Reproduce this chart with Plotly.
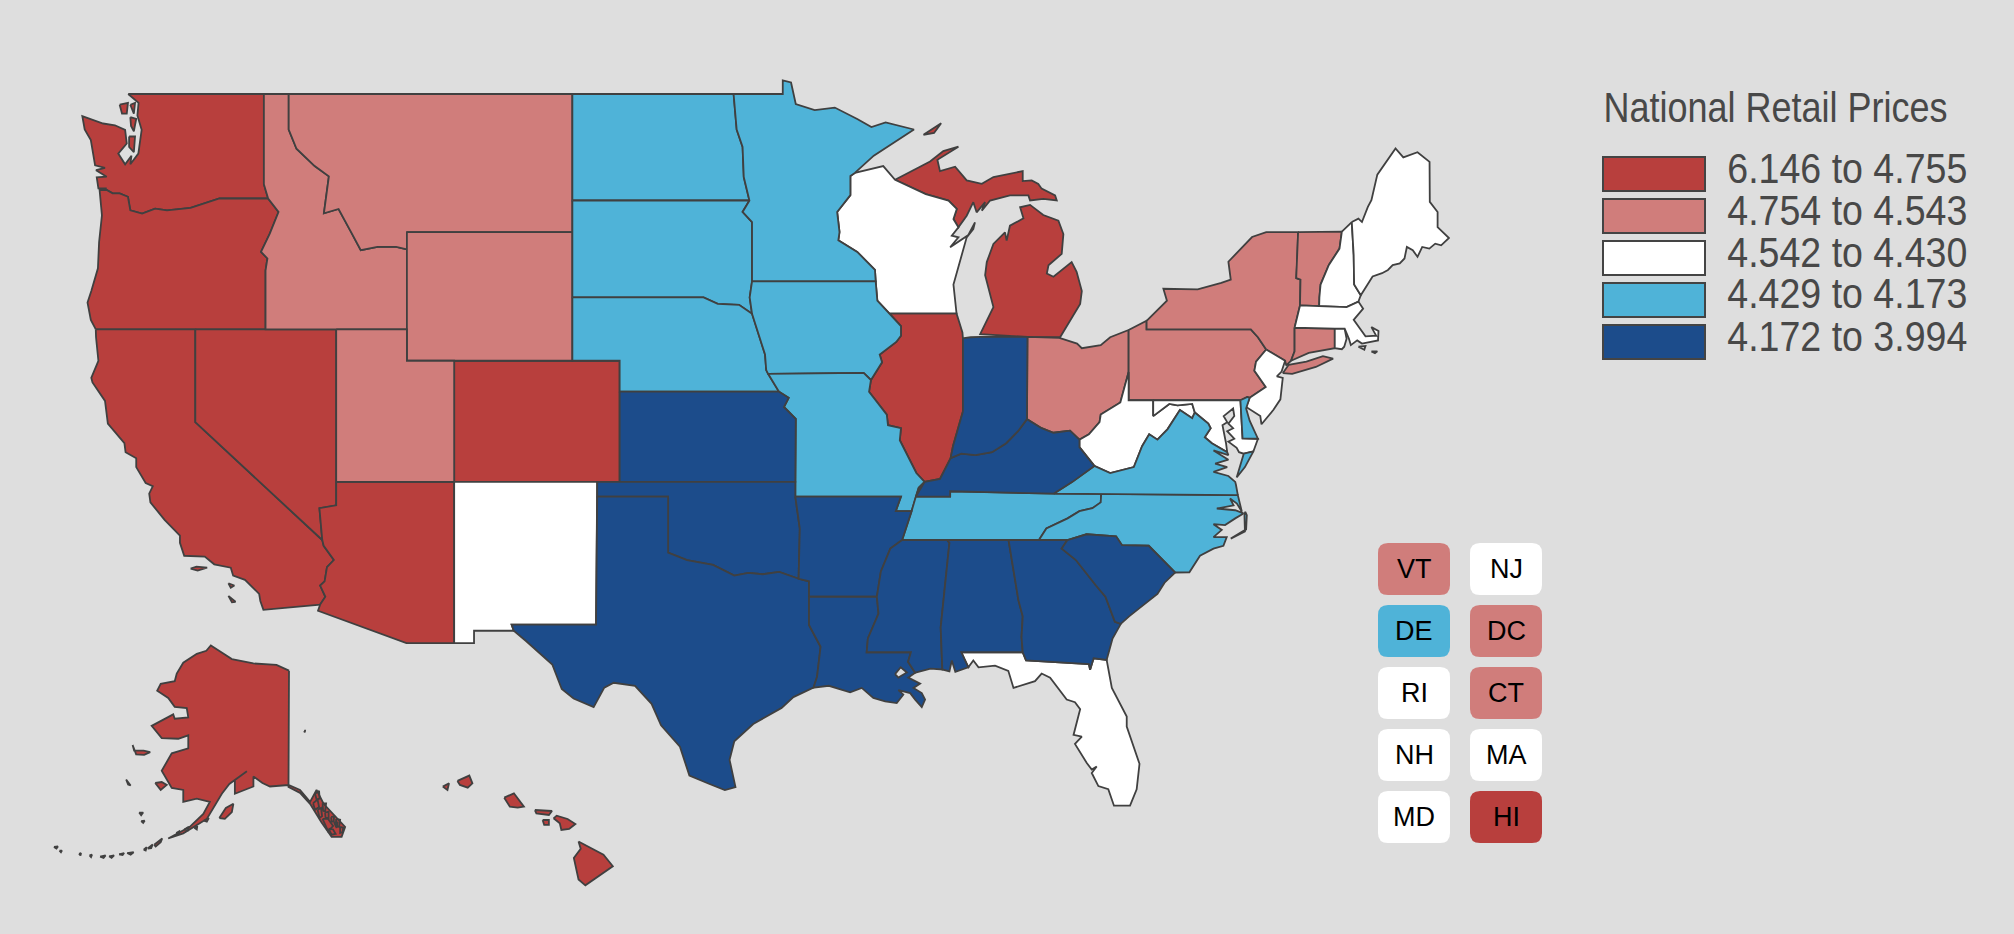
import math

import plotly.graph_objects as go

# legend classes, highest price first
class_labels = ["6.146 to 4.755", "4.754 to 4.543", "4.542 to 4.430", "4.429 to 4.173", "4.172 to 3.994"]
class_colors = ["#b83f3d", "#d07d7b", "#ffffff", "#4fb3d8", "#1c4c8b"]
class_states = [
    ["WA", "OR", "CA", "NV", "AZ", "CO", "IL", "MI", "AK", "HI"],
    ["ID", "MT", "WY", "UT", "OH", "PA", "NY", "VT", "CT", "DC"],
    ["NM", "WI", "FL", "WV", "MD", "NJ", "RI", "NH", "MA", "ME"],
    ["ND", "SD", "NE", "MN", "IA", "MO", "TN", "NC", "VA", "DE"],
    ["KS", "OK", "TX", "AR", "LA", "MS", "AL", "GA", "SC", "KY", "IN"],
]
small_state_labels = [["VT", "DE", "RI", "NH", "MD"], ["NJ", "DC", "CT", "MA", "HI"]]

# shared borders as (lon, lat)
COLUMBIA = [(-118.98, 46.0), (-119.3, 45.93), (-120.2, 45.72), (-121.2, 45.65), (-121.7, 45.7), (-122.25, 45.55),
            (-122.75, 45.65), (-122.85, 46.05), (-123.2, 46.15), (-123.5, 46.15), (-123.75, 46.25), (-124.05, 46.25)]
SNAKE = [(-116.92, 46.0), (-116.48, 45.6), (-116.85, 44.95), (-117.22, 44.4), (-116.95, 44.2), (-117.03, 43.83), (-117.03, 42.0)]
BITTERROOT = [(-116.05, 48.0), (-115.72, 47.45), (-114.95, 46.95), (-114.35, 46.65), (-114.56, 45.56), (-113.94, 45.69),
              (-113.45, 45.05), (-113.0, 44.45), (-112.3, 44.55), (-111.5, 44.55), (-111.05, 44.48)]
COLORADO_RIVER = [(-114.63, 35.0), (-114.57, 34.8), (-114.14, 34.3), (-114.43, 34.05), (-114.53, 33.55), (-114.72, 33.4),
                  (-114.5, 33.0), (-114.72, 32.72)]
RED_NORTH = [(-97.23, 49.0), (-97.1, 48.0), (-96.85, 47.5), (-96.8, 46.63), (-96.56, 45.94)]
MN_SD = [(-96.56, 45.94), (-96.85, 45.6), (-96.45, 45.3), (-96.45, 43.5)]
SD_IA = [(-96.45, 43.5), (-96.55, 43.0), (-96.45, 42.49)]
NE_SD = [(-96.45, 42.49), (-97.0, 42.77), (-97.9, 42.8), (-98.5, 43.0)]
NE_IA = [(-96.45, 42.49), (-96.1, 41.7), (-95.9, 41.2), (-95.85, 40.7), (-95.77, 40.58)]
MO_KS = [(-95.31, 40.0), (-94.9, 39.8), (-95.1, 39.5), (-94.6, 39.11), (-94.62, 37.0)]
WI_MN = [(-92.29, 46.66), (-92.29, 46.1), (-92.85, 45.6), (-92.75, 45.0), (-92.8, 44.75), (-92.0, 44.4), (-91.25, 43.85), (-91.22, 43.5)]
MISS_IA_WI = [(-91.22, 43.5), (-91.15, 42.9), (-90.64, 42.5)]
MISS_IA_IL = [(-90.64, 42.5), (-90.15, 42.1), (-90.15, 41.8), (-90.35, 41.6), (-91.05, 41.2), (-90.95, 40.95), (-91.42, 40.38)]
MISS_MO_IL = [(-91.42, 40.38), (-91.5, 40.0), (-90.75, 39.25), (-90.7, 38.9), (-90.15, 38.8), (-90.2, 38.4), (-89.5, 37.3), (-89.15, 37.0)]
MISS_MO_KY = [(-89.15, 37.0), (-89.4, 36.8), (-89.52, 36.5)]
MISS_MO_TN = [(-89.52, 36.5), (-89.7, 36.0)]
MISS_AR_TN = [(-89.7, 36.0), (-90.1, 35.0)]
MISS_AR_MS = [(-90.1, 35.0), (-90.6, 34.7), (-91.0, 33.9), (-91.17, 33.0)]
MISS_LA_MS = [(-91.17, 33.0), (-91.1, 32.4), (-91.55, 31.5), (-91.6, 31.0)]
OHIO_IL_KY = [(-89.15, 37.0), (-88.5, 37.1), (-88.05, 37.8)]
WABASH = [(-88.05, 37.8), (-87.95, 38.2), (-87.53, 39.35)]
OHIO_IN_KY = [(-88.05, 37.8), (-87.6, 37.95), (-87.0, 37.9), (-86.3, 38.0), (-85.7, 38.3), (-85.2, 38.7), (-84.82, 39.1)]
OHIO_OH_KY = [(-84.82, 39.1), (-84.2, 38.8), (-83.7, 38.65), (-83.0, 38.72), (-82.6, 38.42)]
OHIO_OH_WV = [(-82.6, 38.42), (-82.2, 38.6), (-81.75, 39.0), (-81.7, 39.25), (-80.87, 39.65), (-80.52, 40.64)]
KY_WV = [(-82.6, 38.42), (-82.6, 38.17), (-81.97, 37.54)]
KY_VA = [(-81.97, 37.54), (-82.9, 37.0), (-83.68, 36.6)]
TN_KY = [(-83.68, 36.6), (-86.5, 36.65), (-88.07, 36.68), (-88.07, 36.5), (-89.52, 36.5)]
TN_NC = [(-81.68, 36.59), (-81.7, 36.3), (-82.05, 36.1), (-82.6, 36.0), (-83.1, 35.75), (-84.0, 35.4), (-84.32, 34.99)]
NC_SC = [(-83.11, 35.0), (-82.3, 35.2), (-81.05, 35.13), (-80.8, 34.82), (-79.67, 34.8), (-78.55, 33.86)]
SAVANNAH = [(-83.11, 35.0), (-83.35, 34.7), (-82.75, 34.3), (-81.9, 33.4), (-81.5, 33.0), (-81.1, 32.1), (-80.85, 32.03)]
VA_WV = [(-81.97, 37.54), (-81.3, 37.3), (-80.3, 37.5), (-79.95, 38.2), (-79.65, 38.6), (-79.3, 38.42), (-78.87, 38.77),
         (-78.35, 39.4), (-77.83, 39.13), (-77.72, 39.32)]
WV_MD = [(-77.72, 39.32), (-77.83, 39.6), (-78.45, 39.55), (-78.8, 39.6), (-79.48, 39.2), (-79.48, 39.72)]
VA_MD = [(-77.72, 39.32), (-77.15, 38.95), (-77.05, 38.8), (-77.3, 38.5), (-77.0, 38.3), (-76.35, 38.0)]
RED_SOUTH = [(-100.0, 34.56), (-99.2, 34.3), (-98.1, 34.13), (-97.7, 33.95), (-97.2, 33.75), (-96.6, 33.85), (-96.0, 33.8),
             (-95.3, 33.88), (-94.48, 33.64)]
SABINE = [(-94.04, 33.0), (-94.04, 31.99), (-93.55, 31.2), (-93.7, 30.1), (-93.85, 29.7)]
NY_PA = [(-75.35, 42.0), (-75.05, 41.75), (-74.7, 41.36)]
DELAWARE_PA_NJ = [(-74.7, 41.36), (-75.13, 40.97), (-75.2, 40.68), (-74.72, 40.15), (-75.4, 39.8)]
VT_NH = [(-71.5, 45.01), (-71.6, 44.5), (-72.05, 44.0), (-72.4, 43.4), (-72.45, 43.0), (-72.46, 42.73)]
NY_VT = [(-73.35, 45.0), (-73.4, 44.0), (-73.43, 43.6), (-73.25, 43.55), (-73.27, 42.75)]
WI_UP = [(-90.4, 46.55), (-89.1, 46.13), (-88.14, 45.94), (-87.79, 45.69), (-87.93, 45.39), (-87.72, 45.14)]

# state outlines as (lon, lat), a state may have several rings
state_rings = {
    "WA": [[(-122.84, 49.0), (-117.1, 49.0), (-117.1, 46.42), (-116.92, 46.0)] + COLUMBIA
           + [(-123.75, 46.3), (-124.1, 46.3), (-124.17, 46.62), (-123.75, 46.64), (-124.2, 46.83), (-123.82, 46.9), (-124.24, 46.97),
              (-124.42, 47.7), (-124.68, 48.0), (-124.78, 48.38), (-123.9, 48.17), (-123.4, 48.12), (-122.97, 47.99), (-122.9, 47.6),
              (-123.26, 47.31), (-122.97, 47.0), (-122.7, 47.25), (-122.75, 47.0), (-122.41, 47.31), (-122.27, 47.99),
              (-122.45, 48.4), (-122.4, 48.75)],
           [(-122.75, 48.35), (-122.5, 48.3), (-122.6, 47.95), (-122.72, 48.1)],
           [(-122.8, 47.8), (-122.55, 47.8), (-122.6, 47.35), (-122.8, 47.5)],
           [(-123.2, 48.7), (-122.85, 48.75), (-122.9, 48.45), (-123.1, 48.45)],
           [(-122.75, 48.7), (-122.55, 48.75), (-122.6, 48.45)]],
    "OR": [[(-124.21, 42.0), (-117.03, 42.0)] + SNAKE[::-1] + COLUMBIA
           + [(-123.95, 45.5), (-124.07, 44.7), (-124.12, 43.9), (-124.4, 43.2), (-124.56, 42.84), (-124.42, 42.3)]],
    "CA": [[(-124.21, 42.0), (-120.0, 42.0), (-120.0, 39.0)] + COLORADO_RIVER
           + [(-117.12, 32.53), (-117.25, 32.85), (-117.3, 33.1), (-117.9, 33.6), (-118.4, 33.75), (-118.5, 34.03),
              (-119.2, 34.15), (-119.6, 34.42), (-120.47, 34.45), (-120.65, 34.9), (-120.65, 35.15), (-121.3, 35.7),
              (-121.9, 36.3), (-121.95, 36.6), (-121.8, 36.85), (-122.1, 36.96), (-122.5, 37.5), (-122.5, 37.8),
              (-122.95, 38.0), (-123.0, 38.3), (-123.7, 38.95), (-123.82, 39.7), (-124.35, 40.3), (-124.4, 40.45),
              (-124.1, 41.0), (-124.2, 41.75)],
           [(-120.2, 34.0), (-119.95, 34.07), (-119.5, 34.03), (-119.9, 33.93)],
           [(-118.6, 33.48), (-118.35, 33.4), (-118.5, 33.32)],
           [(-118.6, 33.03), (-118.3, 32.82), (-118.45, 32.8)]],
    "NV": [[(-120.0, 42.0), (-114.04, 42.0), (-114.04, 36.2), (-114.75, 36.1), (-114.63, 35.0), (-120.0, 39.0)]],
    "AZ": [[(-114.04, 37.0), (-109.05, 37.0), (-109.05, 31.33), (-111.07, 31.33), (-114.81, 32.5)] + COLORADO_RIVER[::-1]
           + [(-114.75, 36.1), (-114.04, 36.2)]],
    "UT": [[(-114.04, 42.0), (-111.05, 42.0), (-111.05, 41.0), (-109.05, 41.0), (-109.05, 37.0), (-114.04, 37.0)]],
    "ID": [[(-117.1, 49.0), (-116.05, 49.0)] + BITTERROOT + [(-111.05, 42.0)] + SNAKE[::-1] + [(-117.1, 46.42)]],
    "MT": [[(-116.05, 49.0), (-104.05, 49.0), (-104.05, 45.0), (-111.05, 45.0)] + BITTERROOT[::-1]],
    "WY": [[(-111.05, 45.0), (-104.05, 45.0), (-104.05, 41.0), (-111.05, 41.0)]],
    "CO": [[(-109.05, 41.0), (-102.05, 41.0), (-102.05, 37.0), (-109.05, 37.0)]],
    "NM": [[(-109.05, 37.0), (-103.0, 37.0), (-103.05, 32.0), (-106.62, 32.0), (-106.53, 31.78), (-108.21, 31.78),
            (-108.21, 31.33), (-109.05, 31.33)]],
    "ND": [[(-104.05, 49.0)] + RED_NORTH + [(-104.05, 45.94)]],
    "SD": [[(-104.05, 45.94)] + MN_SD + SD_IA + NE_SD + [(-104.05, 43.0)]],
    "NE": [[(-104.05, 43.0)] + NE_SD[::-1] + NE_IA + [(-95.31, 40.0), (-102.05, 40.0), (-102.05, 41.0), (-104.05, 41.0)]],
    "KS": [[(-102.05, 40.0)] + MO_KS + [(-102.05, 37.0)]],
    "OK": [[(-103.0, 37.0), (-94.62, 37.0), (-94.62, 36.5), (-94.43, 35.4)] + RED_SOUTH[::-1] + [(-100.0, 36.5), (-103.0, 36.5)]],
    "TX": [[(-103.0, 36.5), (-100.0, 36.5)] + RED_SOUTH + [(-94.04, 33.55)] + SABINE
           + [(-94.7, 29.35), (-95.2, 28.95), (-96.4, 28.35), (-97.2, 27.7), (-97.4, 27.0), (-97.15, 25.96), (-97.6, 25.85),
              (-98.3, 26.1), (-99.1, 26.4), (-99.5, 27.5), (-100.3, 28.3), (-100.7, 29.1), (-101.4, 29.77), (-102.3, 29.88),
              (-102.7, 29.7), (-103.15, 28.98), (-104.0, 29.3), (-104.5, 29.65), (-104.9, 30.55), (-106.0, 31.4),
              (-106.53, 31.78), (-106.62, 32.0), (-103.05, 32.0)]],
    "MN": [[(-97.23, 49.0), (-95.15, 49.0), (-95.15, 49.38), (-94.8, 49.32), (-94.6, 48.72), (-93.8, 48.55), (-92.95, 48.62),
            (-92.0, 48.3), (-91.4, 48.07), (-90.8, 48.2), (-89.6, 48.0), (-90.3, 47.7), (-91.3, 47.25), (-92.1, 46.75)]
           + WI_MN + [(-96.45, 43.5)] + MN_SD[::-1] + RED_NORTH[::-1]],
    "IA": [[(-96.45, 43.5)] + MISS_IA_WI + MISS_IA_IL + [(-91.73, 40.61)] + NE_IA[::-1] + SD_IA[::-1]],
    "MO": [[(-95.77, 40.58), (-91.73, 40.61)] + MISS_MO_IL + MISS_MO_KY + MISS_MO_TN
           + [(-90.37, 36.0), (-90.15, 36.5), (-94.62, 36.5)] + MO_KS[::-1]],
    "AR": [[(-94.62, 36.5), (-90.15, 36.5), (-90.37, 36.0)] + MISS_AR_TN + MISS_AR_MS + [(-94.04, 33.0), (-94.04, 33.55), (-94.48, 33.64), (-94.43, 35.4)]],
    "LA": [[(-94.04, 33.0)] + MISS_LA_MS
           + [(-89.73, 31.0), (-89.85, 30.65), (-89.55, 30.25), (-89.84, 30.07), (-89.34, 29.85), (-89.62, 29.69), (-89.27, 29.5),
              (-89.13, 29.26), (-89.27, 28.98), (-89.55, 29.26), (-89.76, 29.5), (-90.26, 29.61), (-90.05, 29.44), (-90.33, 29.13),
              (-90.82, 29.19), (-91.32, 29.32), (-91.81, 29.69), (-92.3, 29.53), (-93.2, 29.77)] + SABINE[::-1]],
    "MS": [[(-90.1, 35.0), (-88.2, 35.0), (-88.1, 34.9), (-88.47, 31.9), (-88.4, 30.37), (-88.9, 30.4), (-89.55, 30.25),
            (-89.85, 30.65), (-89.73, 31.0)] + MISS_LA_MS[::-1] + MISS_AR_MS[::-1]],
    "AL": [[(-88.2, 35.0), (-85.6, 35.0), (-85.18, 32.87), (-85.0, 32.3), (-85.05, 31.55), (-85.0, 31.0), (-87.6, 31.0),
            (-87.3, 30.45), (-87.85, 30.28), (-88.0, 30.7), (-88.1, 30.3), (-88.4, 30.37), (-88.47, 31.9), (-88.1, 34.9)]],
    "GA": [[(-85.6, 35.0), (-84.32, 34.99)] + SAVANNAH
           + [(-81.2, 31.5), (-81.45, 30.72), (-82.0, 30.78), (-82.15, 30.36), (-82.2, 30.57), (-84.86, 30.7), (-85.0, 31.0),
              (-85.05, 31.55), (-85.0, 32.3), (-85.18, 32.87)]],
    "FL": [[(-87.6, 31.0), (-85.0, 31.0), (-84.86, 30.7), (-82.2, 30.57), (-82.15, 30.36), (-82.0, 30.78), (-81.45, 30.72),
            (-81.23, 29.69), (-80.6, 28.63), (-80.6, 28.25), (-80.06, 26.85), (-80.18, 25.88), (-80.46, 25.25), (-81.14, 25.25),
            (-81.38, 25.88), (-81.8, 26.0), (-82.08, 26.5), (-81.87, 26.75), (-82.08, 26.63), (-82.29, 26.88), (-82.79, 27.6),
            (-82.5, 27.88), (-82.85, 27.94), (-82.57, 28.9), (-82.79, 29.16), (-83.14, 29.26), (-83.84, 30.07), (-84.2, 30.22),
            (-84.48, 29.94), (-85.39, 29.69), (-85.61, 30.32), (-86.17, 30.51), (-86.87, 30.45), (-87.09, 30.7), (-87.3, 30.45)]],
    "SC": [NC_SC + [(-79.0, 33.5), (-79.3, 33.1), (-79.9, 32.7), (-80.5, 32.3)] + SAVANNAH[::-1]],
    "NC": [[(-84.32, 34.99)] + NC_SC
           + [(-77.95, 33.87), (-77.5, 34.45), (-76.93, 34.7), (-76.51, 34.8), (-76.37, 35.1), (-76.93, 35.1), (-76.58, 35.35),
              (-76.93, 35.55), (-76.44, 35.52), (-76.01, 35.75), (-75.66, 35.92), (-76.01, 36.03), (-76.79, 36.09), (-76.08, 36.2),
              (-76.23, 36.43), (-75.94, 36.26), (-75.73, 35.98), (-75.9, 36.55)] + TN_NC],
           # outer banks
    "TN": [[(-90.1, 35.0), (-84.32, 34.99)] + TN_NC[::-1] + [(-83.68, 36.6)] + TN_KY + MISS_MO_TN + MISS_AR_TN],
    "KY": [MISS_MO_KY[::-1] + TN_KY[::-1] + KY_VA[::-1] + KY_WV[::-1] + OHIO_OH_KY[::-1] + OHIO_IN_KY[::-1] + OHIO_IL_KY[::-1]],
    "VA": [[(-75.9, 36.55), (-81.68, 36.59), (-83.68, 36.6)] + KY_VA[::-1] + VA_WV + VA_MD
           + [(-76.3, 37.9), (-76.93, 38.06), (-76.3, 37.75), (-76.86, 37.62), (-76.35, 37.5), (-76.93, 37.34), (-76.3, 37.2),
              (-76.01, 37.0), (-75.98, 36.9)],
           [(-75.95, 37.15), (-75.65, 37.95), (-75.24, 38.03), (-75.6, 37.5)]],
    "WV": [KY_WV[::-1] + OHIO_OH_WV + [(-80.52, 39.72)] + WV_MD[::-1] + VA_WV[::-1]],
    "MD": [[(-79.48, 39.72), (-75.79, 39.72), (-75.7, 38.46), (-75.05, 38.45), (-75.24, 38.03), (-75.65, 37.95), (-75.85, 38.0),
            (-75.95, 38.15), (-76.3, 38.35), (-76.05, 38.45), (-76.35, 38.7), (-76.1, 38.8), (-76.3, 38.95), (-76.05, 39.2),
            (-76.1, 39.45), (-76.5, 39.2), (-76.35, 39.0), (-76.55, 38.9), (-76.4, 38.3)] + VA_MD[::-1] + WV_MD],
    "DE": [[(-75.79, 39.72), (-75.5, 39.83), (-75.4, 39.8), (-75.55, 39.45), (-75.4, 39.05), (-75.05, 38.45), (-75.7, 38.46)]],
    "DC": [[(-77.12, 38.93), (-77.04, 39.0), (-76.91, 38.89), (-77.04, 38.79)]],
    "PA": [[(-80.52, 41.98), (-79.76, 42.27), (-79.76, 42.0)] + NY_PA + DELAWARE_PA_NJ
           + [(-75.5, 39.83), (-75.79, 39.72), (-80.52, 39.72)]],
    "NY": [[(-79.76, 42.27), (-78.9, 42.9), (-79.05, 43.27), (-77.6, 43.25), (-76.6, 43.45), (-76.2, 43.55), (-76.3, 44.1),
            (-75.3, 44.85), (-74.7, 45.0)] + NY_VT + [(-73.5, 42.05), (-73.5, 41.3), (-73.65, 41.0), (-73.85, 40.85),
            (-73.9, 41.0)] + NY_PA[::-1] + [(-79.76, 42.0)],
           [(-74.0, 40.6), (-73.75, 40.87), (-73.0, 40.97), (-72.3, 41.15), (-71.87, 41.07), (-72.6, 40.8), (-73.6, 40.58)]],
    "NJ": [[(-74.7, 41.36), (-73.9, 41.0), (-74.05, 40.65), (-74.25, 40.5), (-74.0, 40.45), (-74.1, 39.75), (-74.4, 39.4),
            (-74.9, 38.93), (-74.95, 39.2), (-75.55, 39.5), (-75.4, 39.8)] + DELAWARE_PA_NJ[::-1]],
    "CT": [[(-73.5, 42.05), (-71.8, 42.02), (-71.8, 41.4), (-72.9, 41.25), (-73.65, 41.0), (-73.5, 41.3)]],
    "RI": [[(-71.8, 42.02), (-71.38, 42.02), (-71.3, 41.7), (-71.4, 41.45), (-71.5, 41.37), (-71.8, 41.4)]],
    "MA": [[(-73.5, 42.05), (-73.27, 42.75), (-72.46, 42.73), (-71.3, 42.7), (-70.8, 42.87), (-70.6, 42.65), (-71.0, 42.3),
            (-70.65, 41.95), (-70.5, 41.78), (-70.05, 41.8), (-70.25, 42.07), (-69.95, 41.95), (-69.97, 41.65), (-70.65, 41.55),
            (-70.85, 41.65), (-71.12, 41.5), (-71.2, 41.7), (-71.38, 42.02), (-71.8, 42.02)],
           [(-70.8, 41.45), (-70.5, 41.47), (-70.55, 41.35)],
           [(-70.25, 41.3), (-70.0, 41.3), (-70.1, 41.24)]],
    "VT": [NY_VT + VT_NH[::-1]],
    "NH": [VT_NH + [(-71.3, 42.7), (-70.8, 42.87), (-70.7, 43.07), (-70.98, 43.4), (-71.0, 44.3), (-71.08, 45.3)]],
    "ME": [[(-71.08, 45.3), (-70.8, 45.4), (-70.65, 45.3), (-70.4, 45.75), (-70.25, 45.95), (-70.0, 46.7), (-69.23, 47.46), (-68.9, 47.2), (-68.3, 47.35), (-67.79, 47.07),
            (-67.78, 45.9), (-67.45, 45.6), (-67.45, 45.15), (-66.97, 44.82), (-67.3, 44.6), (-67.55, 44.65), (-67.8, 44.5),
            (-68.1, 44.55), (-68.3, 44.25), (-68.5, 44.45), (-68.75, 44.55), (-68.85, 44.2), (-69.05, 44.05), (-69.35, 44.0),
            (-69.55, 43.85), (-69.8, 43.75), (-70.2, 43.65), (-70.7, 43.07), (-70.98, 43.4), (-71.0, 44.3)]],
    "OH": [OHIO_OH_KY + OHIO_OH_WV + [(-80.52, 41.98), (-81.3, 41.75), (-81.7, 41.5), (-82.5, 41.4), (-82.7, 41.55), (-83.45, 41.73), (-84.8, 41.76)]],
    "IN": [[(-87.53, 39.35), (-87.53, 41.72), (-87.2, 41.75), (-86.8, 41.76), (-84.8, 41.76)] + OHIO_IN_KY[::-1] + WABASH],
    "IL": [[(-90.64, 42.5), (-87.8, 42.5), (-87.55, 41.9), (-87.53, 41.72)] + WABASH[::-1] + OHIO_IL_KY[::-1] + MISS_MO_IL[::-1] + MISS_IA_IL[::-1]],
    "WI": [[(-92.29, 46.66), (-92.1, 46.75), (-90.9, 46.95)] + WI_UP
           + [(-88.0, 44.89), (-87.72, 44.84), (-88.07, 44.54), (-87.3, 44.91), (-87.02, 45.29), (-87.09, 45.09), (-87.37, 44.84),
              (-87.93, 43.4), (-87.8, 42.5), (-90.64, 42.5)] + MISS_IA_WI[::-1] + WI_MN[::-1]],
    "MI": [[(-84.8, 41.76), (-83.42, 41.75), (-82.57, 42.8), (-82.5, 43.2), (-82.72, 43.79), (-82.93, 44.09), (-83.7, 43.64),
            (-83.98, 43.74), (-83.91, 43.99), (-83.35, 44.34), (-83.28, 44.94), (-83.49, 45.34), (-84.13, 45.51), (-84.69, 45.81),
            (-85.11, 45.74), (-84.97, 45.41), (-85.54, 45.19), (-85.68, 44.74), (-85.75, 44.99), (-86.24, 44.64), (-86.52, 44.09),
            (-86.59, 43.69), (-86.24, 42.7), (-86.8, 41.85)],
           WI_UP + [(-87.37, 45.49), (-87.09, 45.89), (-86.95, 45.59), (-86.59, 45.89), (-86.73, 45.64), (-86.38, 45.94), (-85.54, 46.09),
                    (-84.76, 46.09), (-84.69, 45.94), (-84.13, 45.99), (-83.56, 45.94), (-83.63, 46.09), (-84.2, 46.29), (-84.34, 46.43),
                    (-84.62, 46.53), (-85.0, 46.51), (-85.0, 46.8), (-86.24, 46.63), (-86.73, 46.43), (-87.37, 46.53), (-87.86, 46.93),
                    (-88.5, 46.8), (-88.61, 47.13), (-87.72, 47.51), (-88.36, 47.38), (-88.92, 47.08)],
           [(-89.2, 47.85), (-88.45, 48.18), (-88.75, 47.9)]],
    "AK": [[(-141.0, 69.5), (-143.5, 69.9), (-148.1, 70.0), (-152.4, 70.3), (-154.5, 70.75), (-156.6, 71.2), (-157.5, 70.85),
            (-159.4, 70.65), (-162.1, 70.05), (-163.4, 69.3), (-163.8, 68.75), (-166.6, 68.55), (-167.3, 68.05), (-165.1, 67.5),
            (-163.8, 66.8), (-161.4, 66.7), (-161.1, 65.95), (-163.8, 65.85), (-164.1, 66.2), (-168.4, 65.25), (-166.4, 64.2),
            (-163.1, 64.15), (-161.1, 64.45), (-161.1, 63.3), (-164.4, 62.85), (-166.4, 61.2), (-164.4, 59.5), (-162.1, 59.3),
            (-162.1, 58.05), (-159.4, 58.4), (-156.8, 58.05), (-158.1, 56.75), (-160.8, 55.3), (-165.1, 53.95), (-162.1, 54.55),
            (-157.4, 56.2), (-154.4, 58.9), (-152.9, 59.9), (-149.4, 61.15), (-151.8, 60.3), (-151.8, 58.9), (-148.1, 59.65),
            (-148.1, 60.65), (-146.3, 60.0), (-144.8, 59.65), (-141.1, 59.8), (-138.8, 59.3), (-136.8, 58.05), (-135.5, 59.3),
            (-134.1, 57.85), (-129.8, 55.3), (-130.5, 54.15), (-132.5, 54.15), (-134.5, 55.8), (-136.8, 57.85), (-138.8, 59.0), (-141.1, 59.6)],
           [(-154.9, 56.3), (-153.6, 57.4), (-152.1, 57.85), (-152.4, 56.95), (-153.8, 56.2)],
           [(-167.7, 60.0), (-166.4, 60.1), (-165.4, 59.8), (-166.6, 59.3)],
           [(-172.2, 63.6), (-171.9, 63.1), (-170.0, 63.1), (-168.7, 62.95), (-169.9, 62.7), (-171.5, 62.75)],
           [(-173.5, 60.35), (-172.6, 59.75), (-173.1, 59.85)],
           [(-170.9, 56.9), (-170.1, 56.9), (-170.5, 56.6)],
           [(-170.5, 55.95), (-169.8, 56.0), (-170.1, 55.75)],
           [(-137.95, 64.85), (-137.8, 64.85), (-137.85, 64.7)],
           [(-136.2, 57.9), (-135.3, 58.3), (-135.0, 57.5), (-135.8, 57.2)],
           [(-135.3, 57.2), (-134.6, 57.4), (-134.4, 56.5), (-134.9, 56.3)],
           [(-134.3, 57.9), (-133.6, 57.9), (-133.8, 57.0), (-134.2, 57.1)],
           [(-133.8, 56.9), (-133.1, 57.0), (-133.1, 56.3), (-133.7, 56.3)],
           [(-134.3, 56.2), (-133.2, 56.2), (-132.2, 55.4), (-133.2, 54.8)],
           [(-133.1, 55.1), (-132.2, 55.0), (-131.7, 54.5), (-132.5, 54.4)],
           [(-132.6, 56.4), (-132.0, 56.5), (-132.1, 55.9), (-132.5, 55.9)],
           [(-131.6, 56.2), (-130.8, 56.1), (-131.0, 55.3), (-131.6, 55.4)],
           [(-132.0, 55.8), (-131.3, 55.8), (-131.5, 55.2)],
           [(-135.8, 58.9), (-135.0, 59.2), (-134.9, 58.4), (-135.5, 58.3)],
           [(-130.8, 55.3), (-130.2, 55.2), (-130.3, 54.7), (-130.8, 54.6)],
           [(-158.0, 56.0), (-157.0, 56.3), (-157.4, 55.9)],
           [(-159.9, 55.2), (-159.3, 55.4), (-159.4, 55.0)],
           [(-161.9, 55.0), (-161.0, 55.3), (-161.2, 54.9)],
           [(-163.5, 54.6), (-162.9, 54.8), (-162.9, 54.5)],
           [(-167.9, 53.2), (-166.3, 53.95), (-166.6, 53.5), (-167.6, 53.0)],
           [(-169.2, 52.75), (-168.2, 53.25), (-168.5, 52.8)],
           [(-170.0, 52.6), (-169.4, 52.9), (-169.6, 52.5)],
           [(-173.3, 52.2), (-172.0, 52.3), (-172.6, 52.0)],
           [(-174.9, 52.05), (-173.9, 52.2), (-174.2, 51.95)],
           [(-176.9, 51.8), (-175.9, 51.9), (-176.4, 51.6)],
           [(-178.7, 51.75), (-177.6, 51.9), (-178.0, 51.6)],
           [(-180.8, 51.9), (-180.3, 52.0), (-180.5, 51.7)],
           [(-182.9, 52.1), (-182.5, 52.2), (-182.6, 51.9)],
           [(-187.9, 52.95), (-187.1, 53.0), (-187.4, 52.75)],
           [(-186.8, 52.5), (-186.3, 52.5), (-186.5, 52.3)]],
    "HI": [[(-155.9, 20.25), (-155.1, 19.85), (-154.8, 19.5), (-155.68, 18.92), (-155.9, 19.1), (-156.05, 19.75), (-155.83, 20.03)],
           [(-156.7, 20.95), (-156.6, 21.03), (-156.25, 20.93), (-156.0, 20.78), (-156.2, 20.63), (-156.45, 20.6), (-156.5, 20.8)],
           [(-157.05, 20.9), (-156.85, 20.9), (-156.85, 20.75), (-157.0, 20.75)],
           [(-157.3, 21.2), (-156.75, 21.17), (-156.85, 21.05), (-157.25, 21.1)],
           [(-158.28, 21.57), (-157.97, 21.7), (-157.65, 21.3), (-157.85, 21.27), (-158.1, 21.3)],
           [(-159.78, 22.07), (-159.4, 22.23), (-159.3, 22.0), (-159.45, 21.87), (-159.7, 21.95)],
           [(-160.25, 21.9), (-160.05, 22.0), (-160.1, 21.8)]],
}
state_rings["NC"].append([(-75.59, 35.98), (-75.52, 35.86), (-75.55, 35.37), (-76.2, 35.05), (-75.6, 35.3), (-75.62, 35.85)])

# Lake Pontchartrain shows the background through Louisiana
lake_ring = [(-90.4, 30.2), (-90.16, 30.45), (-89.9, 30.26), (-90.26, 30.07)]

WIDTH = 2014
HEIGHT = 934
PX_PER_DEG_X = 23.64
PX_PER_DEG_Y = 23.52
BACKGROUND = "#dedede"
BORDER = "#404040"

# inset scale, source lon, source lat, and the pixel the source point lands on
insets = {"AK": (0.212, -141.0, 60.3, 289, 780), "HI": (1.32, -155.5, 19.6, 591, 863)}


def merc(lat):
    return math.degrees(math.log(math.tan(math.radians(45 + lat / 2))))


# lon -124.73 sits at px 83.5, lat 49 at px 94
x_left = -124.73 - 83.5 / PX_PER_DEG_X
y_top = merc(49.0) + 94 / PX_PER_DEG_Y


def to_xy(state, ring):
    xs, ys = [], []
    for lon, lat in ring + ring[:1]:
        if state in insets:
            s, lon0, lat0, px0, py0 = insets[state]
            xs.append(x_left + px0 / PX_PER_DEG_X + (lon - lon0) * s)
            ys.append(y_top - py0 / PX_PER_DEG_Y + (merc(lat) - merc(lat0)) * s)
        else:
            xs.append(lon)
            ys.append(merc(lat))
    return xs, ys


fig = go.Figure()
state_color = {}
for states, color in zip(class_states, class_colors):
    for state in states:
        state_color[state] = color
        xs, ys = [], []
        for ring in state_rings[state]:
            rx, ry = to_xy(state, ring)
            xs += rx + [None]
            ys += ry + [None]
        fig.add_trace(go.Scatter(x=xs, y=ys, mode="lines", fill="toself", fillcolor=color, name=state,
                                 line=dict(color=BORDER, width=1.8), hoverinfo="name", showlegend=False))

lake_x, lake_y = to_xy("LA", lake_ring)
fig.add_trace(go.Scatter(x=lake_x, y=lake_y, mode="lines", fill="toself", fillcolor=BACKGROUND,
                         line=dict(color=BORDER, width=1.8), hoverinfo="skip", showlegend=False))


def px_x(x):
    return x / WIDTH


def px_y(y):
    return 1 - y / HEIGHT


shapes = []
annotations = [dict(x=px_x(1775), y=px_y(107), xref="paper", yref="paper", text="National Retail Prices", showarrow=False,
                    xanchor="center", yanchor="middle", font=dict(family="Liberation Sans", size=43, color="#484848"))]
for i, (label, color) in enumerate(zip(class_labels, class_colors)):
    top = 156 + i * 42
    shapes.append(dict(type="rect", xref="paper", yref="paper", x0=px_x(1603), x1=px_x(1705), y0=px_y(top + 1), y1=px_y(top + 35),
                       fillcolor=color, line=dict(color="#444444", width=2)))
    annotations.append(dict(x=px_x(1847), y=px_y(168 + i * 42), xref="paper", yref="paper", text=label, showarrow=False,
                            xanchor="center", yanchor="middle", font=dict(family="Liberation Sans", size=42, color="#484848")))

for c, column in enumerate(small_state_labels):
    for r, state in enumerate(column):
        x0, x1 = 1378 + c * 92, 1450 + c * 92
        y0, y1 = 543 + r * 62, 595 + r * 62
        rad = 10
        path = (f"M {px_x(x0 + rad)} {px_y(y0)} L {px_x(x1 - rad)} {px_y(y0)} Q {px_x(x1)} {px_y(y0)} {px_x(x1)} {px_y(y0 + rad)} "
                f"L {px_x(x1)} {px_y(y1 - rad)} Q {px_x(x1)} {px_y(y1)} {px_x(x1 - rad)} {px_y(y1)} "
                f"L {px_x(x0 + rad)} {px_y(y1)} Q {px_x(x0)} {px_y(y1)} {px_x(x0)} {px_y(y1 - rad)} "
                f"L {px_x(x0)} {px_y(y0 + rad)} Q {px_x(x0)} {px_y(y0)} {px_x(x0 + rad)} {px_y(y0)} Z")
        shapes.append(dict(type="path", xref="paper", yref="paper", path=path, fillcolor=state_color[state], line=dict(width=0)))
        annotations.append(dict(x=px_x((x0 + x1) / 2), y=px_y((y0 + y1) / 2), xref="paper", yref="paper", text=state, showarrow=False,
                                xanchor="center", yanchor="middle", font=dict(family="Liberation Sans", size=27, color="#000000")))

fig.update_layout(
    width=WIDTH, height=HEIGHT, margin=dict(l=0, r=0, t=0, b=0),
    paper_bgcolor=BACKGROUND, plot_bgcolor=BACKGROUND,
    xaxis=dict(visible=False, range=[x_left, x_left + WIDTH / PX_PER_DEG_X], fixedrange=True),
    yaxis=dict(visible=False, range=[y_top - HEIGHT / PX_PER_DEG_Y, y_top], fixedrange=True),
    shapes=shapes, annotations=annotations,
)

# the original legend font is condensed, squeeze the text to its width
squeeze = """
document.body.style.margin = '0';
document.documentElement.style.overflow = 'hidden';
document.querySelectorAll('.annotation-text').forEach(function (t) {
  var s = t.textContent;
  if (s.length > 5) {
    t.setAttribute('textLength', s.indexOf('National') === 0 ? 344 : 240);
    t.setAttribute('lengthAdjust', 'spacingAndGlyphs');
  }
});
"""
fig.write_html("out.html", config={"displayModeBar": False}, post_script=squeeze)
